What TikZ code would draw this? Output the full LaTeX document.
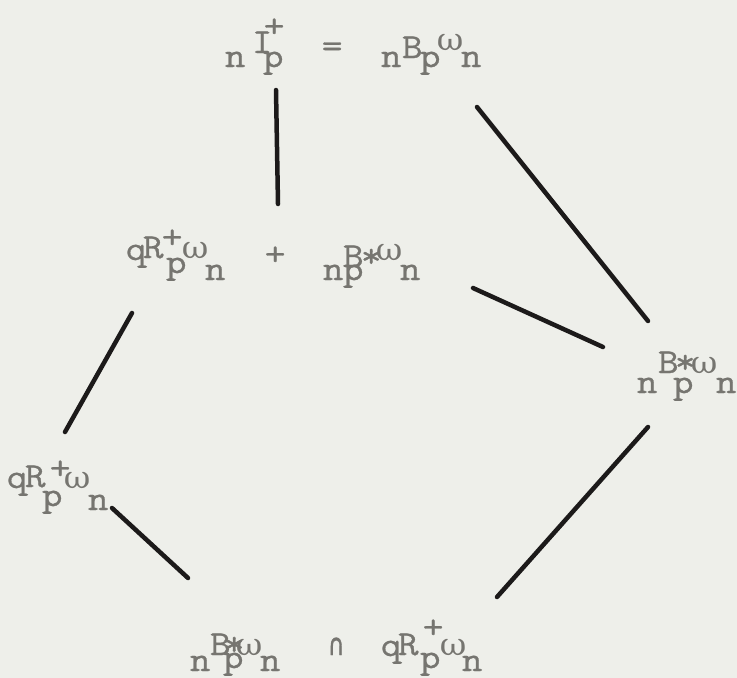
\documentclass[tikz,border=0pt]{standalone}
\usepackage{fontspec}
\usepackage{graphicx}
\setmonofont{Latin Modern Mono}[FakeBold=0.8, FakeStretch=1.15]
\newfontfamily\gk{DejaVu Serif}[FakeStretch=1.05]
\newfontfamily\symf{DejaVu Sans}[FakeBold=1.5]
\definecolor{bgcol}{RGB}{238,239,234}
\definecolor{inkcol}{RGB}{118,117,112}
\definecolor{linecol}{RGB}{28,26,26}
\def\xo{0}
\newcommand{\gl}[3]{\makebox[0pt][l]{\hspace*{\dimexpr#1pt-\xo pt\relax}\raisebox{#2pt}{\makebox[0pt][c]{#3}}}}
\newcommand{\om}{{\gk\fontsize{31}{31}\selectfont ω}}
\newcommand{\capsym}{\scalebox{0.75}[1]{\symf\fontsize{30}{30}\selectfont ∩}}
\tikzset{
  txt/.style={inner sep=0pt, anchor=base west, text=inkcol,
    font=\ttfamily\fontsize{35}{35}\selectfont},
  edge/.style={draw=linecol, line width=4.5pt, line cap=round}
}
\begin{document}
\begin{tikzpicture}[x=1pt,y=-1pt]
\fill[bgcol] (0,0) rectangle (737,678);
\useasboundingbox (0,0) rectangle (737,678);

% top row
\node[txt] (top) at (220,67) {\def\xo{220}\makebox[265pt][l]{%
  \gl{235}{0}{n}\gl{262}{14}{I}\gl{274}{30}{+}\gl{273}{0}{p}%
  \gl{332}{10}{=}%
  \gl{391}{0}{n}\gl{412}{9}{B}\gl{430}{0}{p}\gl{450}{17}{\om}\gl{471}{0}{n}}};

% middle row
\node[txt] (mid) at (125,280) {\def\xo{125}\makebox[300pt][l]{%
  \gl{136}{20}{q}\gl{153}{22}{R}\gl{172}{32}{+}\gl{176}{7}{p}\gl{195}{22}{\om}\gl{215}{0}{n}%
  \gl{275}{15}{+}%
  \gl{333}{0}{n}\gl{353}{13}{B}\gl{371}{13}{*}\gl{353}{0}{p}\gl{389}{20}{\om}\gl{410}{0}{n}}};

% right node
\node[txt] (right) at (636,393) {\def\xo{636}\makebox[100pt][l]{%
  \gl{647}{0}{n}\gl{668}{20}{B}\gl{685}{20}{*}\gl{683}{0}{p}\gl{704}{20}{\om}\gl{726}{0}{n}}};

% left node
\node[txt] (left) at (5,510) {\def\xo{5}\makebox[105pt][l]{%
  \gl{17}{22}{q}\gl{35}{23}{R}\gl{60}{31}{+}\gl{52}{4}{p}\gl{77}{22}{\om}\gl{98}{0}{n}}};

% bottom row
\node[txt] (bot) at (188,671) {\def\xo{188}\makebox[296pt][l]{%
  \gl{200}{0}{n}\gl{220}{16}{B}\gl{234}{16}{*}\gl{233}{3}{p}\gl{249}{16}{\om}\gl{270}{0}{n}%
  \gl{336}{16}{\capsym}%
  \gl{391}{15}{q}\gl{408}{16}{R}\gl{433}{33}{+}\gl{430}{3}{p}\gl{453}{16}{\om}\gl{472}{0}{n}}};

% line end points
\coordinate (l1a) at (276,90);  \coordinate (l1b) at (278,204);
\coordinate (l2a) at (477,107); \coordinate (l2b) at (648,321);
\coordinate (l3a) at (473,288); \coordinate (l3b) at (603,347);
\coordinate (l4a) at (132,313); \coordinate (l4b) at (65,432);
\coordinate (l5a) at (648,427); \coordinate (l5b) at (497,597);
\coordinate (l6a) at (112,508); \coordinate (l6b) at (188,578);

\draw[edge] (l1a) -- (l1b);
\draw[edge] (l2a) -- (l2b);
\draw[edge] (l3a) -- (l3b);
\draw[edge] (l4a) -- (l4b);
\draw[edge] (l5a) -- (l5b);
\draw[edge] (l6a) -- (l6b);
\end{tikzpicture}
\end{document}
